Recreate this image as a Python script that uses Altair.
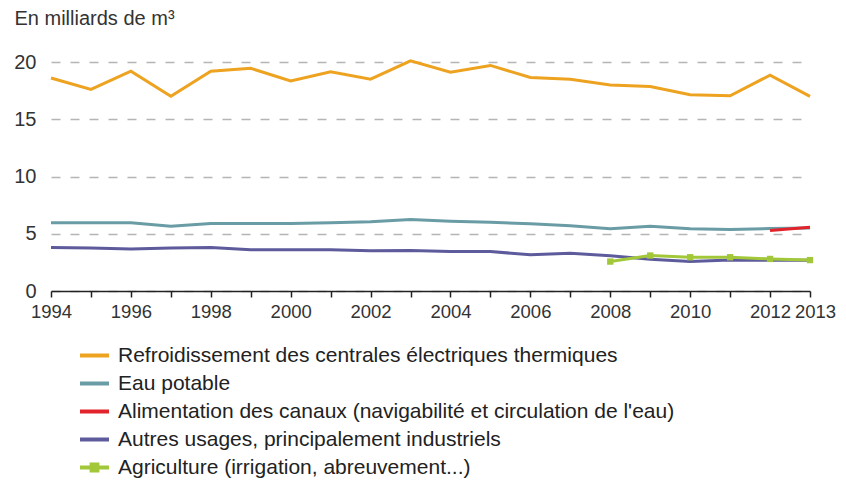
import altair as alt
import pandas as pd

years = list(range(1994, 2014))

refroidissement = [18.6, 17.6, 19.2, 17.0, 19.2, 19.45, 18.35, 19.15, 18.5, 20.1,
                   19.1, 19.7, 18.65, 18.5, 18.0, 17.85, 17.15, 17.05, 18.85, 17.0]
eau_potable = [5.95, 5.95, 5.95, 5.66, 5.9, 5.9, 5.9, 5.95, 6.05, 6.25,
               6.1, 6.0, 5.87, 5.7, 5.43, 5.66, 5.43, 5.37, 5.46, 5.5]
canaux_years = [2012, 2013]
canaux = [5.28, 5.57]
autres = [3.8, 3.75, 3.66, 3.75, 3.8, 3.6, 3.6, 3.6, 3.52, 3.54,
          3.45, 3.45, 3.16, 3.3, 3.07, 2.78, 2.57, 2.7, 2.68, 2.68]
agri_years = [2008, 2009, 2010, 2011, 2012, 2013]
agriculture = [2.57, 3.1, 2.95, 2.95, 2.8, 2.7]

series_names = [
    "Refroidissement des centrales électriques thermiques",
    "Eau potable",
    "Alimentation des canaux (navigabilité et circulation de l'eau)",
    "Autres usages, principalement industriels",
    "Agriculture (irrigation, abreuvement...)",
]
series_colors = ["#EDA220", "#6A9CA6", "#E2232B", "#5D5B9C", "#A2C83A"]

rows = []
for y, v in zip(years, refroidissement):
    rows.append({"annee": y, "valeur": v, "usage": series_names[0]})
for y, v in zip(years, eau_potable):
    rows.append({"annee": y, "valeur": v, "usage": series_names[1]})
for y, v in zip(canaux_years, canaux):
    rows.append({"annee": y, "valeur": v, "usage": series_names[2]})
for y, v in zip(years, autres):
    rows.append({"annee": y, "valeur": v, "usage": series_names[3]})
for y, v in zip(agri_years, agriculture):
    rows.append({"annee": y, "valeur": v, "usage": series_names[4]})
df = pd.DataFrame(rows)

FONT = "Liberation Sans"

x_enc = alt.X(
    "annee:Q",
    scale=alt.Scale(domain=[1994, 2013], nice=False, zero=False),
    axis=alt.Axis(
        values=years,
        labelExpr="(datum.value % 2 == 0 || datum.value == 2013) ? format(datum.value, 'd') : ''",
        labelOverlap=False,
        labelFlush=False,
        labelBound=False,
        labelOffset={
            "condition": {"test": "datum.value == 2013", "value": 5},
            "value": 0,
        },
        title=None,
        grid=False,
        domain=True,
        ticks=True,
        domainColor="#222222",
        domainWidth=1.5,
        tickColor="#222222",
        tickWidth=1.5,
        tickSize=6,
        labelPadding=5,
        labelFontSize=18.5,
        labelColor="#333333",
        labelFont=FONT,
    ),
)
y_enc = alt.Y(
    "valeur:Q",
    scale=alt.Scale(domain=[0, 20], nice=False),
    axis=alt.Axis(
        values=[0, 5, 10, 15, 20],
        title="En milliards de m³",
        titleAngle=0,
        titleAlign="left",
        titleBaseline="alphabetic",
        titleX=-37,
        titleY=-38,
        titleFontSize=20,
        titleFontWeight="normal",
        titleColor="#333333",
        titleFont=FONT,
        domain=False,
        ticks=False,
        labelPadding=15,
        labelFontSize=20,
        labelColor="#333333",
        labelFont=FONT,
        grid=True,
        gridColor="#b5b5b5",
        gridDash=[9, 10],
        gridWidth=1.5,
    ),
)

agri_shape = "M-1,0H1M-0.2,-0.2H0.2V0.2H-0.2Z"
legend = alt.Legend(
    orient="none",
    legendX=27,
    legendY=277,
    direction="vertical",
    title=None,
    symbolType={
        "expr": "indexof(datum.label, 'Agriculture') === 0 ? '" + agri_shape + "' : 'stroke'"
    },
    symbolSize=841,
    symbolStrokeWidth=4,
    labelFontSize=21,
    labelFont=FONT,
    labelColor="#222222",
    labelLimit=0,
    labelOffset=7,
    rowPadding=1,
    padding=0,
)

color_scale = alt.Scale(domain=series_names, range=series_colors)

base = alt.Chart(df).encode(x=x_enc, y=y_enc)

lines = base.mark_line(strokeWidth=3).encode(
    color=alt.Color("usage:N", scale=color_scale, legend=legend),
    order="annee:Q",
    detail="usage:N",
)

points = (
    base.transform_filter(alt.datum.usage == series_names[4])
    .mark_point(shape="square", filled=True, size=40, opacity=1)
    .encode(color=alt.Color("usage:N", scale=color_scale, legend=None))
)

chart = (
    alt.layer(lines, points)
    .properties(
        width=759,
        height=229,
        autosize=alt.AutoSizeParams(type="none"),
        padding={"left": 43, "top": 54, "right": 27, "bottom": 187},
    )
    .configure_view(stroke=None)
)

chart.save("out.html", embed_options={"renderer": "svg", "actions": False})
